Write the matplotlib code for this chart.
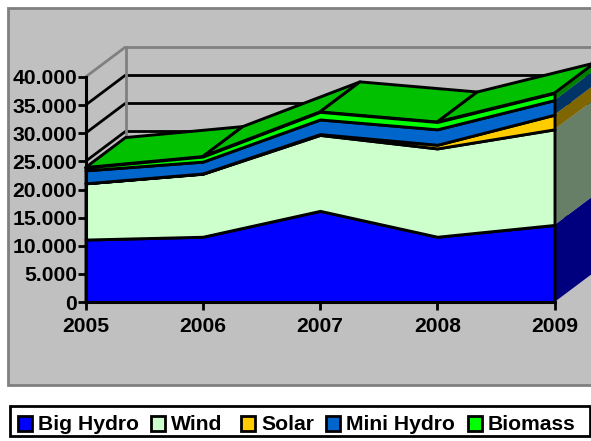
import matplotlib
matplotlib.use("Agg")
import numpy as np
import matplotlib.pyplot as plt
from matplotlib.patches import Rectangle

plt.rcParams['font.family'] = ['Liberation Sans', 'DejaVu Sans']
plt.rcParams['font.weight'] = 'bold'

# data
years = [2005, 2006, 2007, 2008, 2009]
big_hydro = [11100, 11600, 16200, 11600, 13700]
wind = [10000, 11200, 13500, 15700, 17000]
solar = [0, 50, 150, 650, 2600]
mini_hydro = [2300, 2100, 2600, 2750, 2600]
biomass = [500, 900, 1350, 1300, 1250]

names = ['Big Hydro', 'Wind', 'Solar', 'Mini Hydro', 'Biomass']
front_cols = ['#0000FF', '#CCFFCC', '#FFCC00', '#0066CC', '#00FF00']
side_cols = ['#00007F', '#667F66', '#7F6600', '#003366', '#007F00']
top_col = '#00C000'
y_ticks = [0, 5000, 10000, 15000, 20000, 25000, 30000, 35000, 40000]
y_labels = ['0', '5.000', '10.000', '15.000', '20.000', '25.000', '30.000', '35.000', '40.000']

# legend layout in pixels
legend_box_x = [18, 151, 241, 326, 468]
legend_text_x = [38, 171, 261, 346, 488]

W, H = 591, 441
# depth of the 3d box, in data units
dx = 40 / 117.25
dy = 30 / 225 * 40000

fig = plt.figure(figsize=(W / 100, H / 100), dpi=100)
fig.patch.set_facecolor('white')


def fx(p):
    return p / W


def fy(p):
    return 1 - p / H


fig.add_artist(Rectangle((fx(8), fy(385)), fx(600 - 8), (385 - 8) / H, transform=fig.transFigure,
                         facecolor='#C0C0C0', edgecolor='#808080', lw=2, clip_on=False, zorder=-1))

ax = fig.add_axes([fx(85.5), fy(302), (555 - 86) / W, (302 - 77) / H])
ax.patch.set_visible(False)
ax.set_xlim(2005, 2009)
ax.set_ylim(0, 40000)

# walls
for v in y_ticks:
    c = '#808080' if v == 40000 else 'black'
    ax.plot([2005, 2005 + dx], [v, v + dy], color=c, lw=2, clip_on=False, zorder=1, solid_capstyle='butt')
    ax.plot([2005 + dx, 2011], [v + dy, v + dy], color=c, lw=2, clip_on=False, zorder=1)
ax.plot([2005 + dx, 2005 + dx], [dy, 40000 + dy], color='#808080', lw=2, clip_on=False, zorder=1.5)

# stacked front faces, side faces on the right, top of the stack
x = np.array(years, dtype=float)
bottom = np.zeros(len(years))
for i, vals in enumerate([big_hydro, wind, solar, mini_hydro, biomass]):
    top = bottom + np.array(vals)
    ax.fill([x[-1], x[-1] + dx, x[-1] + dx, x[-1]],
            [bottom[-1], bottom[-1] + dy, top[-1] + dy, top[-1]],
            facecolor=side_cols[i], edgecolor='none', clip_on=False, zorder=2)
    ax.fill_between(x, bottom, top, facecolor=front_cols[i], edgecolor='black', lw=2.1,
                    clip_on=False, zorder=4)
    bottom = top

for i in range(len(years) - 1):
    ax.fill([x[i], x[i + 1], x[i + 1] + dx, x[i] + dx],
            [bottom[i], bottom[i + 1], bottom[i + 1] + dy, bottom[i] + dy],
            facecolor=top_col, edgecolor='black', lw=2.1, clip_on=False, zorder=3, joinstyle='round')

for s in ['top', 'right']:
    ax.spines[s].set_visible(False)
for s in ['left', 'bottom']:
    ax.spines[s].set_linewidth(2.2)
    ax.spines[s].set_zorder(6)
ax.set_xticks(years)
ax.set_xticklabels([str(y) for y in years])
ax.set_yticks(y_ticks)
ax.set_yticklabels(y_labels)
ax.tick_params(axis='both', length=6, width=2, labelsize=15.2, pad=0)
ax.tick_params(axis='x', pad=5)

# legend
fig.add_artist(Rectangle((fx(10), fy(436)), (590 - 10) / W, (436 - 406) / H, transform=fig.transFigure,
                         facecolor='white', edgecolor='black', lw=2))
for i, name in enumerate(names):
    fig.add_artist(Rectangle((fx(legend_box_x[i]), fy(431)), 14 / W, 15 / H, transform=fig.transFigure,
                             facecolor=front_cols[i], edgecolor='black', lw=2))
    fig.text(fx(legend_text_x[i]), fy(424), name, fontsize=15.2, fontweight='bold', va='center', ha='left')

fig.savefig('out.png', dpi=100, facecolor='white')
